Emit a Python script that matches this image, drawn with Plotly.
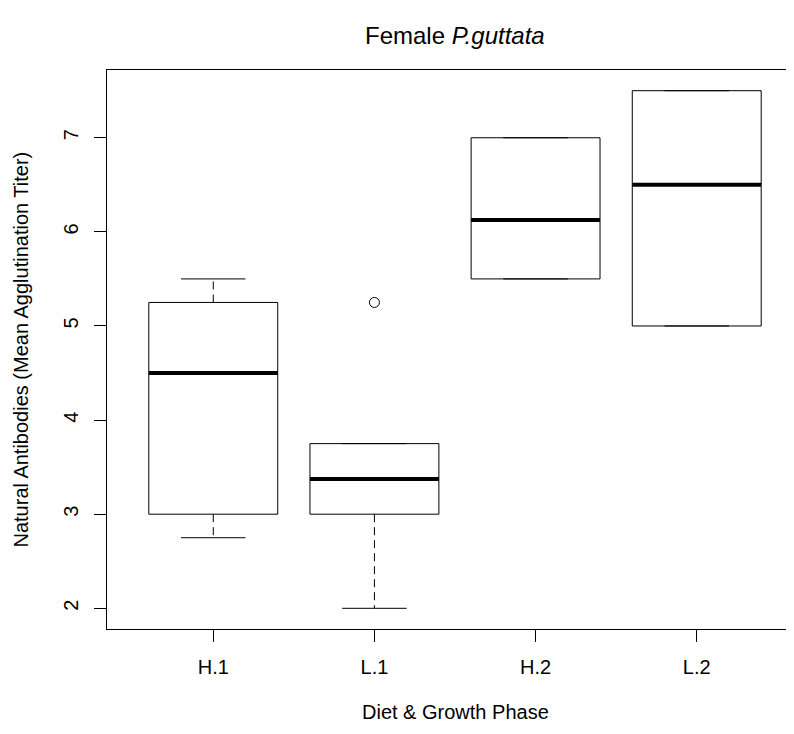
import plotly.graph_objects as go

# ---- data ----
categories = ["H.1", "L.1", "H.2", "L.2"]
lower_whisker = [2.75, 2.0, 5.5, 5.0]
q1 = [3.0, 3.0, 5.5, 5.0]
median = [4.5, 3.375, 6.125, 6.5]
q3 = [5.25, 3.75, 7.0, 7.5]
upper_whisker = [5.5, 3.75, 7.0, 7.5]
outlier_groups = ["L.1"]
outlier_values = [5.25]
y_ticks = [2, 3, 4, 5, 6, 7]

# ---- styling constants ----
BOX_HALF = 0.4
CAP_HALF = 0.2
FONT = "Liberation Sans, Arial, Helvetica, sans-serif"

pos = list(range(1, len(categories) + 1))

box_x, box_y = [], []
med_x, med_y = [], []
wh_x, wh_y = [], []
cap_x, cap_y = [], []
for p, lo, a, m, b, hi in zip(pos, lower_whisker, q1, median, q3, upper_whisker):
    box_x += [p - BOX_HALF, p + BOX_HALF, p + BOX_HALF, p - BOX_HALF, p - BOX_HALF, None]
    box_y += [a, a, b, b, a, None]
    med_x += [p - BOX_HALF, p + BOX_HALF, None]
    med_y += [m, m, None]
    wh_x += [p, p, None, p, p, None]
    wh_y += [b, hi, None, a, lo, None]
    cap_x += [p - CAP_HALF, p + CAP_HALF, None, p - CAP_HALF, p + CAP_HALF, None]
    cap_y += [hi, hi, None, lo, lo, None]

out_x = [categories.index(g) + 1 for g in outlier_groups]

fig = go.Figure()
fig.add_trace(go.Scatter(x=wh_x, y=wh_y, mode="lines",
                         line=dict(color="black", width=1, dash="8px,5px"),
                         hoverinfo="skip"))
fig.add_trace(go.Scatter(x=cap_x, y=cap_y, mode="lines",
                         line=dict(color="black", width=1), hoverinfo="skip"))
fig.add_trace(go.Scatter(x=box_x, y=box_y, mode="lines",
                         line=dict(color="black", width=1), hoverinfo="skip"))
fig.add_trace(go.Scatter(x=med_x, y=med_y, mode="lines",
                         line=dict(color="black", width=4), hoverinfo="skip"))
fig.add_trace(go.Scatter(x=out_x, y=outlier_values, mode="markers",
                         marker=dict(symbol="circle-open", size=10, color="black",
                                     line=dict(width=1)),
                         hoverinfo="skip"))

fig.update_layout(
    width=786, height=726,
    margin=dict(l=99, r=0, t=62, b=105),
    paper_bgcolor="white", plot_bgcolor="white",
    showlegend=False,
    font=dict(family=FONT, size=20, color="black"),
    xaxis=dict(range=[0.3406, 4.6036], tickvals=pos, ticktext=categories,
               showgrid=False, zeroline=False, showline=True, linecolor="black",
               linewidth=1, mirror=True, ticks="outside", ticklen=12,
               tickcolor="black", tickwidth=1, ticklabelstandoff=8,
               tickfont=dict(size=20)),
    yaxis=dict(range=[1.78, 7.72], tickvals=y_ticks,
               showgrid=False, zeroline=False, showline=True, linecolor="black",
               linewidth=1, mirror=False, ticks="outside", ticklen=12,
               tickcolor="black", tickwidth=1, tickangle=-90,
               ticklabelstandoff=8, tickfont=dict(size=20)),
    annotations=[
        dict(text="Female <i>P.guttata</i>", xref="paper", yref="paper",
             x=0.5066, y=1.0626, xanchor="center", yanchor="middle",
             showarrow=False, font=dict(size=24)),
        dict(text="Diet &amp; Growth Phase", xref="paper", yref="paper",
             x=0.5066, y=-0.1485, xanchor="center", yanchor="middle",
             showarrow=False, font=dict(size=20)),
        dict(text="Natural Antibodies (Mean Agglutination Titer)", xref="paper",
             yref="paper", x=-0.1266, y=0.5, xanchor="center", yanchor="middle",
             textangle=-90, showarrow=False, font=dict(size=20)),
    ],
)

fig.write_html("out.html")
